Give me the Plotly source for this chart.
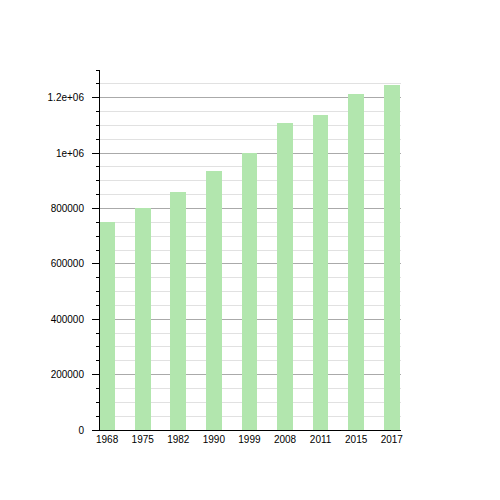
import plotly.graph_objects as go

years = ["1968", "1975", "1982", "1990", "1999", "2008", "2011", "2015", "2017"]
population = [752000, 802000, 858000, 936000, 1002000, 1108000, 1138000, 1214000, 1245000]
y_tick_values = [0, 200000, 400000, 600000, 800000, 1000000, 1200000]
y_tick_labels = ["0", "200000", "400000", "600000", "800000", "1e+06", "1.2e+06"]

positions = list(range(len(years)))

fig = go.Figure()
fig.add_trace(go.Bar(
    x=positions,
    y=population,
    width=0.44,
    marker=dict(color="rgb(178,230,174)", line=dict(width=0)),
))

fig.update_layout(
    width=500,
    height=500,
    margin=dict(l=92, r=107, t=62, b=78),
    paper_bgcolor="white",
    plot_bgcolor="white",
    showlegend=False,
    font=dict(family="Liberation Sans, Arial, sans-serif", size=10, color="black"),
    bargap=0,
)

fig.update_xaxes(
    range=[-0.2, 8.26],
    tickmode="array",
    tickvals=positions,
    ticktext=years,
    showgrid=False,
    zeroline=False,
    showline=True,
    linecolor="black",
    linewidth=1,
    ticks="",
    tickfont=dict(size=10),
)

fig.update_yaxes(
    range=[0, 1300000],
    tickmode="array",
    tickvals=y_tick_values,
    ticktext=y_tick_labels,
    showgrid=True,
    gridcolor="rgb(170,170,170)",
    gridwidth=1,
    zeroline=False,
    showline=True,
    linecolor="black",
    linewidth=1,
    ticks="outside",
    ticklen=7,
    tickcolor="black",
    tickfont=dict(size=10),
    ticklabelstandoff=6,
    minor=dict(
        tickmode="linear",
        tick0=0,
        dtick=50000,
        showgrid=True,
        gridcolor="rgb(225,225,225)",
        gridwidth=1,
        ticks="outside",
        ticklen=3,
        tickcolor="black",
    ),
)

fig.write_html("out.html")
